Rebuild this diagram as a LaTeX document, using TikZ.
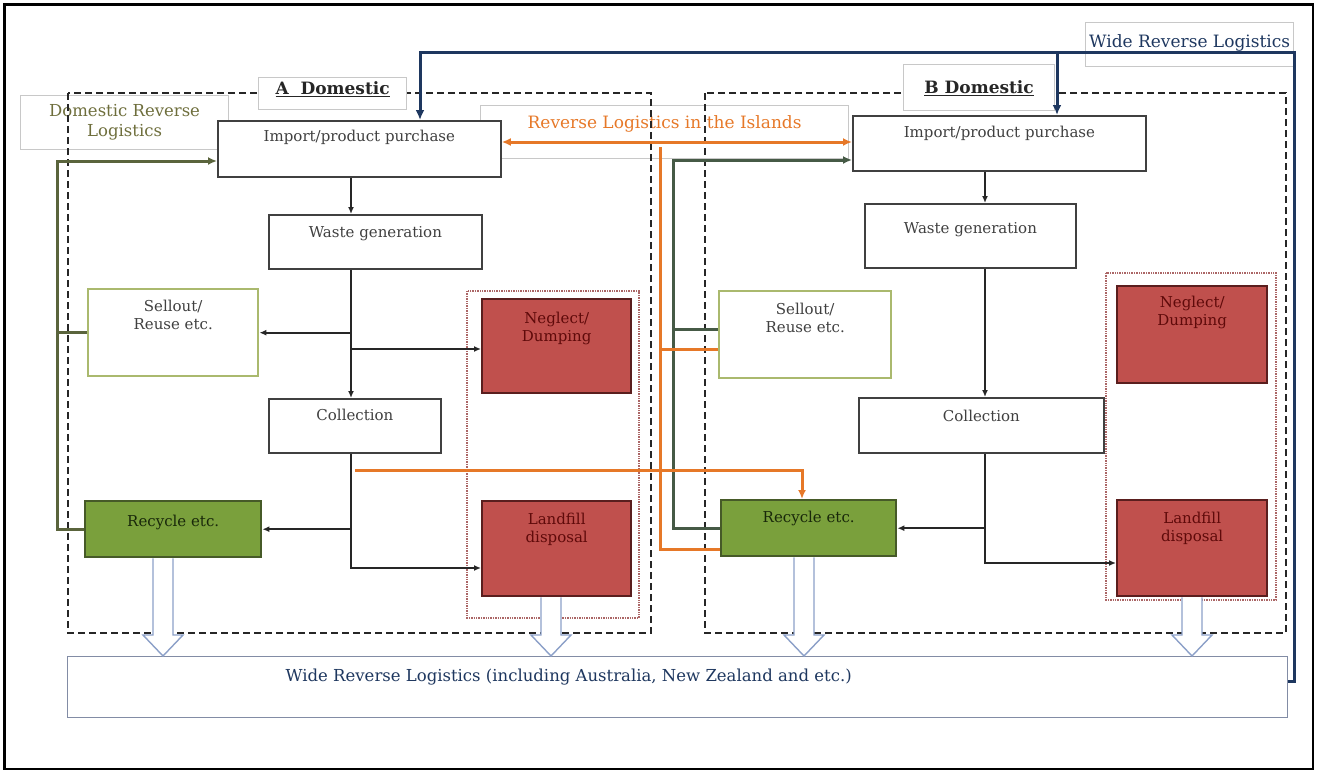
\documentclass[tikz,border=0pt]{standalone}
\usepackage{fontspec}
\setmainfont{DejaVu Serif}
\usetikzlibrary{arrows.meta,calc}
\definecolor{redf}{RGB}{192,80,77}
\definecolor{redd}{RGB}{90,30,30}
\definecolor{redt}{RGB}{95,10,10}
\definecolor{greenf}{RGB}{122,160,60}
\definecolor{greend}{RGB}{70,90,40}
\definecolor{greent}{RGB}{25,40,10}
\definecolor{sellc}{RGB}{170,185,110}
\definecolor{navy}{RGB}{30,55,95}
\definecolor{olivel}{RGB}{90,100,60}
\definecolor{olivet}{RGB}{110,110,60}
\definecolor{greenl}{RGB}{70,90,70}
\definecolor{orangel}{RGB}{230,120,40}
\definecolor{hollowc}{RGB}{140,160,200}
\definecolor{lgray}{RGB}{200,200,200}
\definecolor{wideb}{RGB}{130,140,165}
\begin{document}
\begin{tikzpicture}[x=1pt,y=-1pt,
  bx/.style={draw=black!75, line width=1.8pt, fill=white, anchor=north west, inner sep=0pt},
  rbx/.style={bx, fill=redf, draw=redd, line width=2.4pt},
  gbx/.style={bx, fill=greenf, draw=greend, line width=2.4pt},
  sbx/.style={bx, draw=sellc, line width=2.4pt},
  tx/.style={font=\fontsize{15}{18}\selectfont, text=black!75, align=center, anchor=center, inner sep=0pt},
  lblbox/.style={draw=lgray, line width=1.2pt, anchor=north west, inner sep=0pt},
  dbox/.style={draw=black!85, line width=1.8pt, dash pattern=on 7pt off 4pt},
  dotbox/.style={draw=black!55!red!60, line width=1.4pt, densely dotted},
  blk/.style={draw=black!85, line width=1.7pt, -{Latex[length=7pt,width=6pt]}},
  navyl/.style={draw=navy, line width=3pt},
  olv/.style={draw=olivel, line width=3pt},
  grn/.style={draw=greenl, line width=3pt},
  org/.style={draw=orangel, line width=3pt},
  hollow/.style={draw=hollowc, line width=1.4pt, fill=white},
]
\useasboundingbox (0,0) rectangle (1317,772);
\draw[line width=2.5pt] (4.5,4.5) rectangle (1313,769);

% transparent label boxes
\node[lblbox, minimum width=208pt, minimum height=54pt,
  label={[font=\fontsize{16.5}{20}\selectfont, text=olivet, align=center, anchor=center, yshift=-27pt]north:Domestic Reverse\\Logistics}] (drl) at (20,95) {};
\node[lblbox, minimum width=368pt, minimum height=53pt,
  label={[font=\fontsize{17}{20}\selectfont, text=orangel, anchor=center, yshift=-19pt]north:Reverse Logistics in the Islands}] (rli) at (480,105) {};
\node[lblbox, minimum width=208pt, minimum height=44pt,
  label={[font=\fontsize{17}{20}\selectfont, text=navy, anchor=center, yshift=-21pt]north:Wide Reverse Logistics}] (wrl) at (1085,22) {};

% dashed domestic regions
\draw[dbox] (68,93) rectangle (651,633);
\draw[dbox] (705,93) rectangle (1286,633);

% region titles
\node[lblbox, fill=white, minimum width=148pt, minimum height=32pt,
  label={[font=\fontsize{17}{20}\selectfont\bfseries, text=black!85, anchor=center, yshift=-12pt]north:\underline{A~~Domestic}}] (tA) at (258,77) {};
\node[lblbox, fill=white, minimum width=151pt, minimum height=46pt,
  label={[font=\fontsize{17}{20}\selectfont\bfseries, text=black!85, anchor=center, yshift=-24pt]north:\underline{B Domestic}}] (tB) at (903,64) {};

% dotted containers
\draw[dotbox] (467,291) rectangle (639,618);
\draw[dotbox] (1106,273) rectangle (1276,600);

% ---------- A nodes ----------
\node[bx, minimum width=283pt, minimum height=56pt, label={[tx,yshift=-17pt]north:Import/product purchase}] (impA) at (217,120) {};
\node[bx, minimum width=213pt, minimum height=54pt, label={[tx,yshift=-20pt]north:Waste generation}] (wasA) at (268,214) {};
\node[bx, minimum width=172pt, minimum height=54pt, label={[tx,yshift=-17pt]north:Collection}] (colA) at (268,398) {};
\node[sbx, minimum width=170pt, minimum height=87pt, label={[tx,yshift=-27pt]north:Sellout/\\Reuse etc.}] (selA) at (87,288) {};
\node[gbx, minimum width=176pt, minimum height=56pt, label={[tx,text=greent,yshift=-22pt]north:Recycle etc.}] (recA) at (84,500) {};
\node[rbx, minimum width=149pt, minimum height=94pt, label={[tx,text=redt,yshift=-30pt]north:Neglect/\\Dumping}] (negA) at (481,298) {};
\node[rbx, minimum width=149pt, minimum height=95pt, label={[tx,text=redt,yshift=-29pt]north:Landfill\\disposal}] (lanA) at (481,500) {};

% ---------- B nodes ----------
\node[bx, minimum width=293pt, minimum height=55pt, label={[tx,yshift=-18pt]north:Import/product purchase}] (impB) at (852,115) {};
\node[bx, minimum width=211pt, minimum height=64pt, label={[tx,yshift=-27pt]north:Waste generation}] (wasB) at (864,203) {};
\node[bx, minimum width=245pt, minimum height=55pt, label={[tx,yshift=-19pt]north:Collection}] (colB) at (858,397) {};
\node[sbx, minimum width=172pt, minimum height=87pt, label={[tx,yshift=-28pt]north:Sellout/\\Reuse etc.}] (selB) at (718,290) {};
\node[gbx, minimum width=175pt, minimum height=56pt, label={[tx,text=greent,yshift=-19pt]north:Recycle etc.}] (recB) at (720,499) {};
\node[rbx, minimum width=150pt, minimum height=97pt, label={[tx,text=redt,yshift=-27pt]north:Neglect/\\Dumping}] (negB) at (1116,285) {};
\node[rbx, minimum width=150pt, minimum height=96pt, label={[tx,text=redt,yshift=-29pt]north:Landfill\\disposal}] (lanB) at (1116,499) {};

% wide box
\node[bx, draw=wideb, line width=1.4pt, minimum width=1220pt, minimum height=61pt,
  label={[font=\fontsize{16.5}{20}\selectfont, text=navy, anchor=center, xshift=-109pt, yshift=-21pt]north:Wide Reverse Logistics (including Australia, New Zealand and etc.)}] (wide) at (67,656) {};

% ---------- coordinates ----------
\coordinate (cA) at (351,0);
\coordinate (cB) at (985,0);
\coordinate (oA) at (57,0);
\coordinate (oB) at (673,0);
\coordinate (oT) at (660,147);
\coordinate (wr) at (1294,52);

% ---------- black flow A ----------
\draw[blk] (impA.south -| cA) -- (wasA.north -| cA);
\draw[blk] (wasA.south -| cA) -- (colA.north -| cA);
\draw[blk] (cA |- selA.east) -- (selA.east);
\draw[blk] ([yshift=-51pt]negA.north west -| cA) -- ([yshift=-51pt]negA.north west);
\draw[blk] (colA.south -| cA) |- ([yshift=-68pt]lanA.north west);
\draw[blk] (cA |- recA.east) -- (recA.east);

% ---------- black flow B ----------
\draw[blk] (impB.south -| cB) -- (wasB.north -| cB);
\draw[blk] (wasB.south -| cB) -- (colB.north -| cB);
\draw[blk] (colB.south -| cB) |- ([yshift=-64pt]lanB.north west);
\draw[blk] (cB |- recB.east) -- (recB.east);

% ---------- domestic reverse (olive / green) ----------
\draw[olv, -{Latex[length=9pt,width=8pt]}] (recA.west) -- (recA.west -| oA) |- ([yshift=-41pt]impA.north west);
\draw[olv] (selA.west) -- (selA.west -| oA);
\draw[grn, -{Latex[length=9pt,width=8pt]}] (recB.west) -- (recB.west -| oB) |- ([yshift=-45pt]impB.north west);
\draw[grn] ([yshift=-39pt]selB.north west) -- ([yshift=-39pt]selB.north west -| oB);

% ---------- islands (orange) ----------
\draw[org, {Latex[length=9pt,width=8pt]}-{Latex[length=9pt,width=8pt]}] ([yshift=-22pt]impA.north east) -- ([yshift=-22pt]impA.north east -| impB.west);
\draw[org] (oT) |- ([yshift=-50pt]recB.north west);
\draw[org] ([yshift=-59pt]selB.north west -| oT) -- ([yshift=-59pt]selB.north west);
\draw[org, -{Latex[length=9pt,width=8pt]}] ([yshift=-17pt]colA.south) -| ([xshift=82pt]recB.north west);

% ---------- wide reverse (navy) ----------
\draw[navyl, -{Latex[length=10pt,width=9pt]}] ([yshift=6pt]wide.east) -| (wr) -| ([xshift=203pt]impA.north west);
\draw[navyl, -{Latex[length=10pt,width=9pt]}] ([xshift=205pt]impB.north west |- wr) -- ([xshift=205pt]impB.north west);

% ---------- hollow block arrows ----------
\newcommand\harrow[2]{%
  \path[hollow] ($(#1)+(-10,0)$) -- ($(#2)+(-10,-21)$) -- ($(#2)+(-20,-21)$) -- (#2)
    -- ($(#2)+(20,-21)$) -- ($(#2)+(10,-21)$) -- ($(#1)+(10,0)$);}
\harrow{recA.south -| 163,0}{wide.north -| 163,0}
\harrow{lanA.south -| 551,0}{wide.north -| 551,0}
\harrow{recB.south -| 804,0}{wide.north -| 804,0}
\harrow{lanB.south -| 1192,0}{wide.north -| 1192,0}
\end{tikzpicture}
\end{document}
